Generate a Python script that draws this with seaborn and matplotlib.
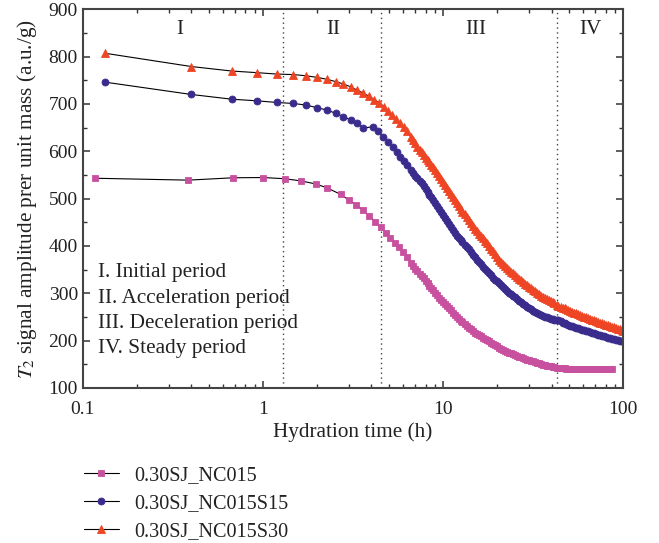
import numpy as np
import pandas as pd
import matplotlib
matplotlib.use("Agg")
import matplotlib.pyplot as plt
import seaborn as sns
from matplotlib.ticker import FixedLocator, NullFormatter, LogLocator

# ---------------- data ----------------
dense_t = [6.6, 6.8, 7.0, 7.2, 7.4, 7.6, 7.8, 8.0, 8.2, 8.4,
           8.6, 8.8, 9.0, 9.25, 9.5, 9.75, 10.0, 10.25, 10.5, 10.75,
           11.0, 11.3, 11.6, 11.9, 12.2, 12.5, 12.8, 13.15, 13.5, 13.85,
           14.2, 14.6, 15.0, 15.4, 15.8, 16.2, 16.6, 17.05, 17.5, 17.95,
           18.4, 18.9, 19.4, 19.9, 20.4, 20.95, 21.5, 22.05, 22.6, 23.2,
           23.8, 24.4, 25.0, 25.65, 26.3, 27.0, 27.7, 28.4, 29.1, 29.85,
           30.6, 31.4, 32.2, 33.05, 33.9, 34.8, 35.7, 36.6, 37.5, 38.5,
           39.5, 40.5, 41.5, 42.6, 43.7, 44.85, 46.0, 47.2, 48.4, 49.65,
           50.9, 52.2, 53.5, 54.9, 56.3, 57.75, 59.2, 60.75, 62.3, 63.9,
           65.5, 67.2, 68.9, 70.7, 72.5, 74.4, 76.3, 78.25, 80.2, 82.3,
           84.4]
tail_t = [86.6, 88.8, 91.1, 93.4, 95.8, 98.2, 99.8]

# 0.30SJ_NC015 (squares)
t_s = [0.117, 0.385, 0.685, 1.0, 1.32, 1.62, 1.96, 2.26, 2.7, 3.0, 3.3, 3.6, 3.9, 4.2,
       4.5, 4.8, 5.1, 5.4, 5.7, 6.0, 6.3] + dense_t + [86.6]
v_s = [543, 539, 544, 544.5, 542, 537.5, 531, 523, 509, 497, 487, 475, 463, 451,
       439, 428, 417, 407, 397, 387, 376,
       364, 358, 351.8, 346.6, 341.4, 336.5, 331.7, 326.5, 321.2, 316.2,
       311.2, 306.2, 301.2, 295.9, 290.6, 286.3, 282, 277.5, 273, 268.6,
       264.2, 259.4, 254.6, 250.2, 245.9, 242.5, 239, 235.2, 231.3, 227.7,
       224, 220.5, 216.9, 214.2, 211.5, 209, 206.4, 203.7, 201, 198.4,
       195.8, 193.1, 190.4, 187.9, 185.3, 182.7, 180, 178.3, 176.6, 174.9,
       173.1, 171.5, 169.8, 168.1, 166.4, 164.7, 162.9, 161.5, 160.1, 158.8,
       157.4, 156, 154.5, 153.1, 151.7, 150.2, 148.7, 147.9, 147.1, 146.3,
       145.5, 144.7, 143.9, 143.1, 142.3, 141.9, 141.4, 141.2, 141, 140.8,
       140.6, 140.4, 140.2, 140, 139.8, 139.7, 139.6, 139.6, 139.6, 139.6,
       139.7, 139.7, 139.8, 139.8, 139.9, 139.9, 140, 140, 140, 140,
       140.1,
       140.1]

# 0.30SJ_NC015S15 (circles)
t_c = [0.133, 0.40, 0.67, 0.93, 1.2, 1.47, 1.73, 2.0, 2.27, 2.54, 2.8, 3.07, 3.34,
       3.61, 4.1, 4.37, 4.65, 4.96, 5.25, 5.53, 5.8, 6.05, 6.3] + dense_t + tail_t
v_c = [746, 720, 710, 706.5, 703, 701, 697.7, 692, 687, 680, 673, 666, 659,
       649, 652, 642, 631, 620, 608, 598, 588, 579, 572,
       560.8, 554.7, 548.6, 543.3, 538, 531.9, 525.7, 519.9, 514, 508.4,
       502.8, 497.2, 491.5, 484.5, 477.5, 471, 464.5, 458.2, 451.8, 445.7,
       439.5, 433.1, 426.7, 421.9, 417, 412.5, 408, 403, 398, 392.8,
       387.6, 381.9, 376.2, 370.9, 365.5, 361, 356.4, 351.7, 346.9, 342.4,
       337.8, 333.3, 328.8, 325, 321.1, 317, 313, 309.2, 305.3, 301.5,
       297.7, 294.5, 291.2, 287.9, 284.5, 281.1, 277.7, 274.5, 271.3, 268.7,
       266.1, 263.5, 260.9, 258.3, 255.6, 253.8, 251.9, 250.5, 249, 247.5,
       246, 245, 244, 243.3, 243, 240.5, 238, 236.5, 234.9, 233.4,
       231.8, 230.3, 228.8, 227.4, 226, 224.7, 223.3, 222, 220.6, 219.3,
       217.9, 216.6, 215.2, 213.9, 212.6, 211.3, 210, 208.8, 207.6, 206.3,
       205,
       203.8, 202.6, 201.7, 200.7, 199.7, 198.7, 198.2]

# 0.30SJ_NC015S30 (triangles)
t_t = [0.133, 0.40, 0.67, 0.93, 1.2, 1.47, 1.73, 2.0, 2.27, 2.54, 2.8, 3.07, 3.34,
       3.61, 3.88, 4.15, 4.42, 4.69, 4.96, 5.23, 5.5, 5.77, 6.04, 6.3] + dense_t + tail_t
v_t = [807, 779, 769.5, 766, 763, 762, 759.5, 756, 752, 747, 742, 736, 729,
       723, 716, 709, 702, 694, 686, 676, 668, 659, 651, 642,
       631, 624, 617, 610, 603, 597.4, 591.7, 586.4, 581, 576.3,
       571.5, 566.3, 561, 554.3, 547.5, 541.3, 535, 528.8, 522.6, 516.6,
       510.6, 503.8, 497, 490.5, 484, 478.3, 472.6, 466.6, 460.5, 454.8,
       449, 442.9, 436.8, 431.4, 426, 421, 416, 410.8, 405.6, 399.9,
       394.2, 388.3, 382.4, 376.7, 371, 366.7, 362.4, 358.4, 354.3, 350.2,
       346, 342.2, 338.4, 334.7, 331, 327.3, 323.6, 320.2, 316.7, 313.6,
       310.5, 307.4, 304.2, 301.1, 298, 295.3, 292.6, 290.3, 288, 285.5,
       283, 280.8, 278.5, 276.2, 273.8, 271.8, 269.8, 268, 266.2, 264.5,
       262.7, 261, 259.2, 257.5, 255.8, 254.2, 252.6, 250.9, 249.2, 247.6,
       246, 244.4, 242.7, 241, 239.3, 237.9, 236.4, 235.1, 233.8, 232.5,
       231.2,
       229.8, 228.4, 226.9, 225.3, 223.7, 222.1, 221]

labels = ["0.30SJ_NC015", "0.30SJ_NC015S15", "0.30SJ_NC015S30"]
period_bounds = [1.29, 4.55, 43.0]
period_names = ["I", "II", "III", "IV"]
period_text = ["I. Initial period", "II. Acceleration period",
               "III. Deceleration period", "IV. Steady period"]

# ---------------- style ----------------
sns.set_theme(style="ticks")
plt.rcParams["font.family"] = ["Liberation Serif", "DejaVu Serif"]
plt.rcParams["mathtext.fontset"] = "stix"
FS_TICK = 14
FS_TXT = 15.3
FS_LEG = 14.6

fig = plt.figure(figsize=(6.59, 5.43), dpi=100)
ax = fig.add_axes([0.1255, 0.2855, 0.8203, 0.6975])

series = [
    (t_s, v_s, "s", "#C8519F", 4.5, labels[0]),
    (t_c, v_c, "o", "#3A2C8C", 5.0, labels[1]),
    (t_t, v_t, "^", "#EE4524", 5.5, labels[2]),
]
for tt, vv, mk, col, ms, lab in series:
    df = pd.DataFrame({"t": tt, "v": vv})
    sns.lineplot(data=df, x="t", y="v", ax=ax, estimator=None, sort=True,
                 color="black", linewidth=0.8, marker=mk, markersize=ms,
                 markerfacecolor=col, markeredgecolor=col, markeredgewidth=0.6,
                 label=lab, legend=False)

ax.set_xscale("log")
ax.set_xlim(0.1, 100)
ax.set_ylim(100, 900)

for b in period_bounds:
    ax.axvline(b, color="#444444", linestyle=(0, (1, 2.5)), linewidth=1.0, zorder=0)

for name, xpos in zip(period_names, [0.347, 2.45, 15.1, 66]):
    ax.text(xpos, 858, name, ha="center", va="center", fontsize=FS_TXT, color="#222222")

for i, s in enumerate(period_text):
    ax.text(0.121, 343 - i * 53.4, s, ha="left", va="center", fontsize=FS_TXT,
            color="#222222")

ax.set_xticks([0.1, 1, 10, 100])
ax.set_xticklabels(["0.1", "1", "10", "100"])
ax.xaxis.set_minor_locator(LogLocator(base=10, subs=np.arange(2, 10) * 1.0, numticks=20))
ax.xaxis.set_minor_formatter(NullFormatter())
ax.set_yticks(np.arange(100, 901, 100))
ax.yaxis.set_minor_locator(FixedLocator(np.arange(150, 900, 100)))

ax.tick_params(which="both", direction="in", top=True, right=True,
               colors="#333333", labelcolor="#222222", labelsize=FS_TICK)
ax.tick_params(which="major", length=5, width=1.1)
ax.tick_params(which="minor", length=3, width=1.0)
ax.tick_params(axis="x", which="major", pad=9.5)
for sp in ax.spines.values():
    sp.set_visible(True)
    sp.set_color("#444444")
    sp.set_linewidth(1.5)

ax.set_xlabel("Hydration time (h)", fontsize=FS_TXT, color="#222222", labelpad=3)
ax.set_ylabel(r"$T_2$ signal amplitude prer unit mass (a.u./g)", fontsize=FS_TXT,
              color="#222222", labelpad=7)

handles, labs = ax.get_legend_handles_labels()
fig.legend(handles, labs, loc="upper left", bbox_to_anchor=(0.100, 0.1755),
           frameon=False, fontsize=FS_LEG, handlelength=1.7, handletextpad=0.75,
           labelspacing=0.44, numpoints=1, labelcolor="#222222")

fig.savefig("out.png", dpi=100)
